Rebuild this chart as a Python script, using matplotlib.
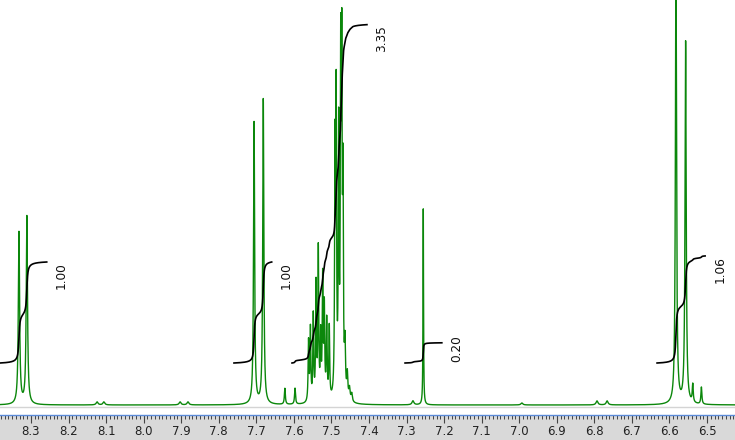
import numpy as np
import matplotlib
matplotlib.use("Agg")
import matplotlib.pyplot as plt
from matplotlib.patches import Rectangle
from matplotlib.ticker import MultipleLocator, FormatStrFormatter

# peak list: shift (ppm), height, half width (ppm)
peak_ppm = [8.332, 8.311,
            7.706, 7.6815, 7.624, 7.597,
            7.561, 7.556, 7.5484, 7.541, 7.535, 7.5287, 7.5234, 7.519, 7.5127, 7.5058,
            7.4906, 7.4874, 7.4808, 7.4754, 7.4725, 7.4693, 7.464, 7.4578, 7.452, 7.446,
            7.2555,
            6.5827, 6.557, 6.538, 6.515,
            8.124, 8.106, 7.903, 7.882, 7.283, 6.993, 6.793, 6.766]
peak_height = [172, 188,
               282, 305, 16, 16,
               60, 72, 85, 115, 150, 62, 120, 90, 78, 72,
               240, 290, 260, 320, 315, 200, 50, 24, 12, 8,
               196,
               440, 362, 18, 17,
               3, 3, 3, 3, 4, 2, 4, 4]
peak_width = [0.002, 0.002,
              0.0017, 0.0017, 0.0015, 0.0015,
              0.0013, 0.0013, 0.0013, 0.0013, 0.0013, 0.0013, 0.0013, 0.0013, 0.0013, 0.0013,
              0.0012, 0.0012, 0.0012, 0.0012, 0.0012, 0.0012, 0.0016, 0.0016, 0.002, 0.002,
              0.0008,
              0.0018, 0.0018, 0.0015, 0.0015,
              0.003, 0.003, 0.003, 0.003, 0.003, 0.003, 0.003, 0.003]

# integral regions (start ppm, end ppm) and values
int_start = [8.3825, 7.7595, 7.605, 7.304, 6.633]
int_end = [8.258, 7.659, 7.4054, 7.206, 6.505]
int_value = [1.00, 1.00, 3.35, 0.20, 1.06]
label_dy = [-13.5, -13.5, -13.5, -6, -13.5]

ppm = np.arange(6.42, 8.39, 0.0001)[::-1]
spec = np.zeros_like(ppm)
for p, h, w in zip(peak_ppm, peak_height, peak_width):
    spec += h * w**2 / (w**2 + (ppm - p)**2)

fig = plt.figure(figsize=(7.35, 4.4), dpi=100)
fig.patches.append(Rectangle((0, 0), 1, 25 / 440, transform=fig.transFigure,
                             color="#d9d9d9", zorder=-5))
ax = fig.add_axes([0, 25 / 440, 1, 415 / 440])

ax.axhline(-2, color="#d4d4d4", lw=1)
ax.plot(ppm, spec, color="#0b870b", lw=1)

unit = 101
offset = 42
for a, b, v, dy in zip(int_start, int_end, int_value, label_dy):
    m = (ppm <= a) & (ppm >= b)
    c = np.cumsum(spec[m])
    c = c / c[-1] * v * unit + offset
    ax.plot(ppm[m], c, color="black", lw=1.2)
    ax.text(b - 0.039, c[-1] + dy, f"{v:.2f}", rotation=90, ha="center",
            va="center", fontsize=8.7, color="#111111")

ax.set_xlim(8.3825, 6.4255)
ax.set_ylim(-10, 405)
ax.set_yticks([])
for s in ["left", "right", "top"]:
    ax.spines[s].set_visible(False)
ax.spines["bottom"].set_color("#5b8bd9")
ax.spines["bottom"].set_linewidth(1)
ax.xaxis.set_major_locator(MultipleLocator(0.1))
ax.xaxis.set_minor_locator(MultipleLocator(0.01))
ax.xaxis.set_major_formatter(FormatStrFormatter("%.1f"))
ax.tick_params(axis="x", which="major", direction="out", length=5.8, width=0.8,
               color="#444444", labelsize=8.5, labelcolor="#222222", pad=1.5)
ax.tick_params(axis="x", which="minor", direction="out", length=2.9, width=0.7,
               color="#444444")

fig.savefig("out.png", dpi=100)
